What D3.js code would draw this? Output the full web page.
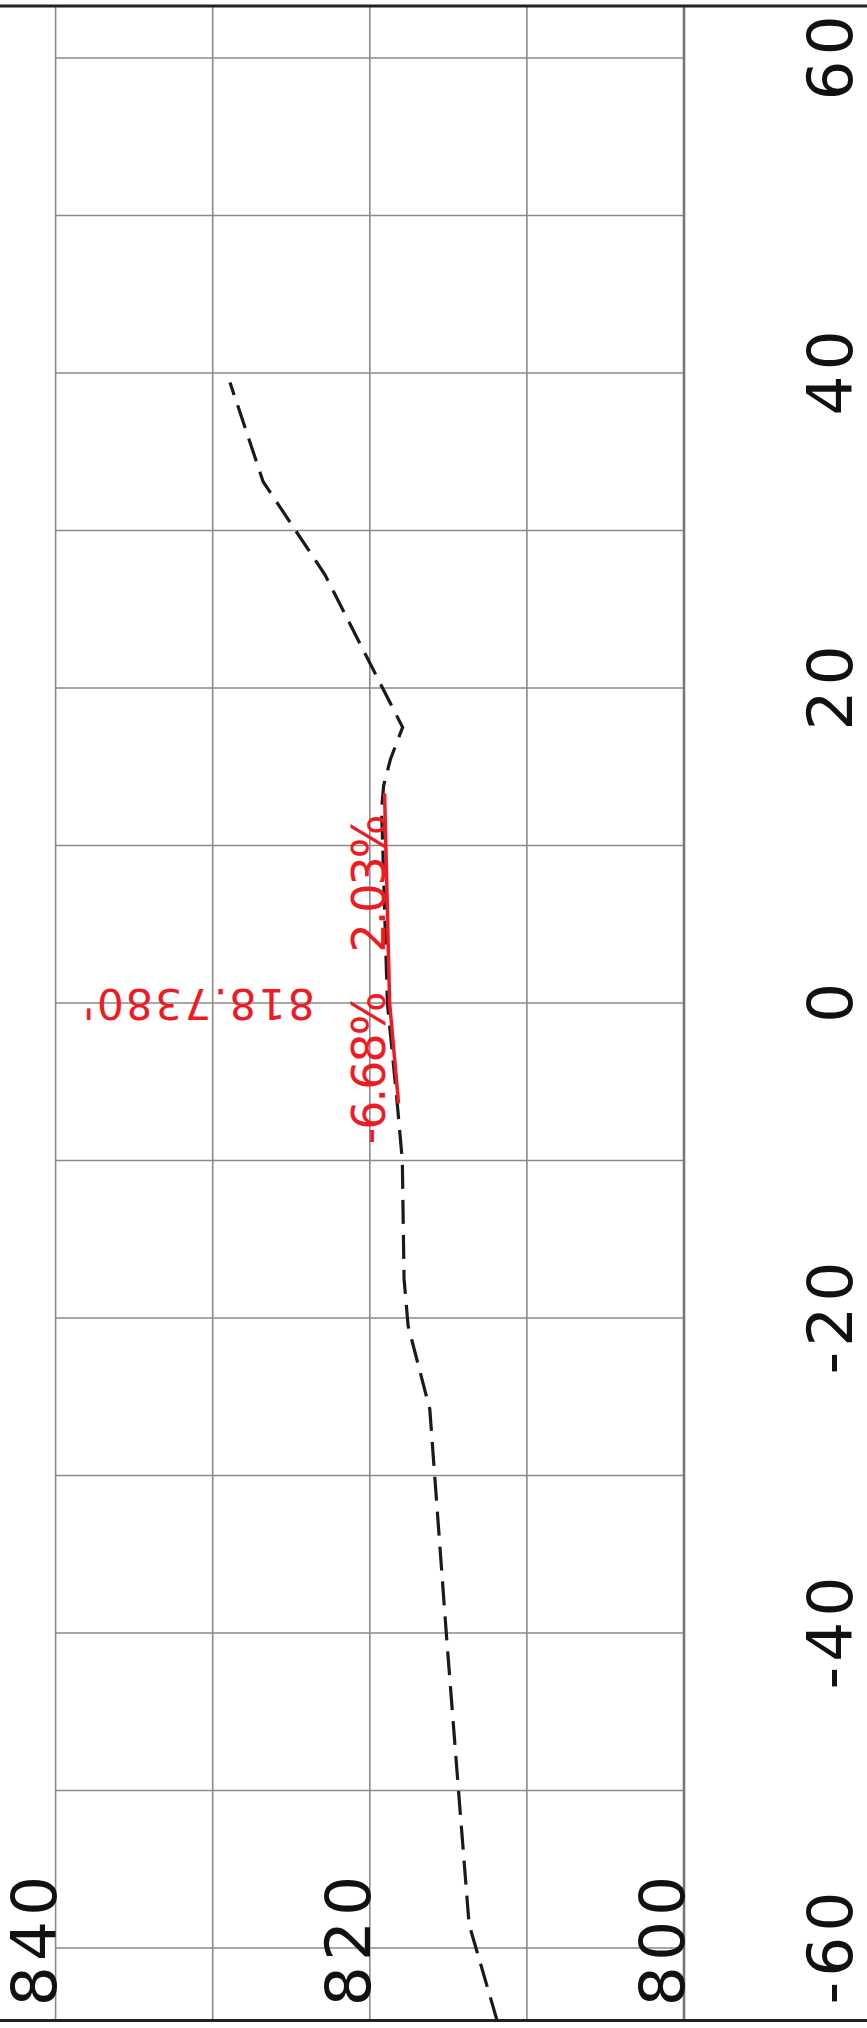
<!DOCTYPE html>
<html>
<head>
<meta charset="utf-8">
<script src="https://cdn.jsdelivr.net/npm/d3@7"></script>
<style>
  body { margin: 0; background: #fff; }
  svg { display: block; }
</style>
</head>
<body>
<div class="wrapper"></div>
<script>
// profile data (station along vertical, elevation along horizontal)
var stations   = [-64.6, -58.5, -49.8, -40.3, -25.8, -20.5, -17.5, -10, -6.4, 0, 12.3, 13.8, 15.5, 17.5, 27.2, 33.1, 39.4];
var elevations = [811.9, 813.68, 814.37, 815.11, 816.18, 817.56, 817.82, 817.93, 818.25, 818.88, 819.25, 819.12, 818.68, 817.91, 822.86, 826.79, 828.9];

// red grade line through the PVI
var gradeStations   = [-6.37, 0, 13.32];
var gradeElevations = [818.17, 818.738, 819.06];
var gradeLabels = ['-6.68%', '2.03%'];
var pviLabel = "818.7380'";

var stationGrid   = [-60, -50, -40, -30, -20, -10, 0, 10, 20, 30, 40, 50, 60];
var stationLabels = [-60, -40, -20, 0, 20, 40, 60];
var elevGrid   = [800, 810, 820, 830, 840];
var elevLabels = [800, 820, 840];

var W = 867, H = 2028;
var FONT = "DejaVu Sans";
var sy = d3.scaleLinear().domain([-60, 60]).range([1948, 58]);   // station -> screen y
var sx = d3.scaleLinear().domain([800, 840]).range([684, 55.6]); // elevation -> screen x

var topY = sy(63.3), botY = sy(-64.6);

var svg = d3.select(".wrapper").append("svg")
    .attr("width", W)
    .attr("height", H);

// grid
svg.append("g").selectAll("line")
    .data(stationGrid)
    .enter().append("line")
    .attr("x1", sx(840)).attr("x2", sx(800))
    .attr("y1", function(d) { return sy(d); })
    .attr("y2", function(d) { return sy(d); })
    .style("stroke", "#8a8a8a").style("stroke-width", 1.6);

svg.append("g").selectAll("line")
    .data(elevGrid)
    .enter().append("line")
    .attr("x1", function(d) { return sx(d); })
    .attr("x2", function(d) { return sx(d); })
    .attr("y1", topY).attr("y2", botY)
    .style("stroke", function(d) { return d == 800 ? "#777" : "#8a8a8a"; })
    .style("stroke-width", function(d) { return d == 800 ? 2.6 : 1.6; });

// borders
svg.append("line").attr("x1", 0).attr("x2", W).attr("y1", topY).attr("y2", topY)
    .style("stroke", "#222").style("stroke-width", 3);
svg.append("line").attr("x1", 0).attr("x2", W).attr("y1", botY).attr("y2", botY)
    .style("stroke", "#222").style("stroke-width", 3);

// station labels (rotated)
var axisX = 852;
var stAxis = svg.append("g")
    .attr("transform", "translate(" + axisX + ",0)")
    .call(d3.axisRight(sy).tickValues(stationLabels).tickSize(0).tickPadding(0)
        .tickFormat(function(d) { return String(d); }));
stAxis.select(".domain").remove();
stAxis.selectAll("text")
    .attr("x", null).attr("dy", null)
    .attr("transform", function(d) { return "translate(0," + sy(d) + ") rotate(-90)"; })
    .attr("text-anchor", "middle")
    .attr("dx", "2.5")
    .style("font-family", FONT)
    .style("font-size", "63px")
    .style("letter-spacing", "5px")
    .style("fill", "#111");
stAxis.selectAll(".tick").attr("transform", null);

// elevation labels (rotated, near bottom)
var elY = 1941;
svg.append("g").selectAll("text")
    .data(elevLabels)
    .enter().append("text")
    .attr("transform", function(d) { return "translate(" + sx(d) + "," + elY + ") rotate(-90)"; })
    .attr("text-anchor", "middle")
    .attr("dx", "2.5")
    .style("font-family", FONT)
    .style("font-size", "63px")
    .style("letter-spacing", "5px")
    .style("fill", "#111")
    .text(function(d) { return d; });

// profile line
var pts = stations.map(function(s, i) { return [s, elevations[i]]; });
var line = d3.line()
    .x(function(d) { return sx(d[1]); })
    .y(function(d) { return sy(d[0]); });

svg.append("path")
    .datum(pts)
    .attr("d", line)
    .style("fill", "none")
    .style("stroke", "#1a1a1a")
    .style("stroke-width", 3.2)
    .style("stroke-dasharray", "24,11");

// grade line
var gpts = gradeStations.map(function(s, i) { return [s, gradeElevations[i]]; });
svg.append("path")
    .datum(gpts)
    .attr("d", line)
    .style("fill", "none")
    .style("stroke", "#ed1c24")
    .style("stroke-width", 3.5);

// grade labels
var gradeX = sx(819.05);
svg.append("text")
    .attr("transform", "translate(" + gradeX + "," + sy(0.6) + ") rotate(-90)")
    .attr("text-anchor", "end")
    .style("font-family", FONT)
    .style("font-size", "46px")
    .style("letter-spacing", "-2px")
    .style("fill", "#ed1c24")
    .text(gradeLabels[0]);
svg.append("text")
    .attr("transform", "translate(" + gradeX + "," + sy(3.2) + ") rotate(-90)")
    .attr("text-anchor", "start")
    .style("font-family", FONT)
    .style("font-size", "46px")
    .style("letter-spacing", "-2px")
    .style("fill", "#ed1c24")
    .text(gradeLabels[1]);

// PVI elevation label (upside down)
svg.append("text")
    .attr("transform", "translate(" + sx(823.5) + "," + sy(0.9) + ") rotate(180)")
    .attr("text-anchor", "start")
    .style("font-family", FONT)
    .style("font-size", "42px")
    .style("letter-spacing", "2.5px")
    .style("fill", "#ed1c24")
    .text(pviLabel);
</script>
</body>
</html>
